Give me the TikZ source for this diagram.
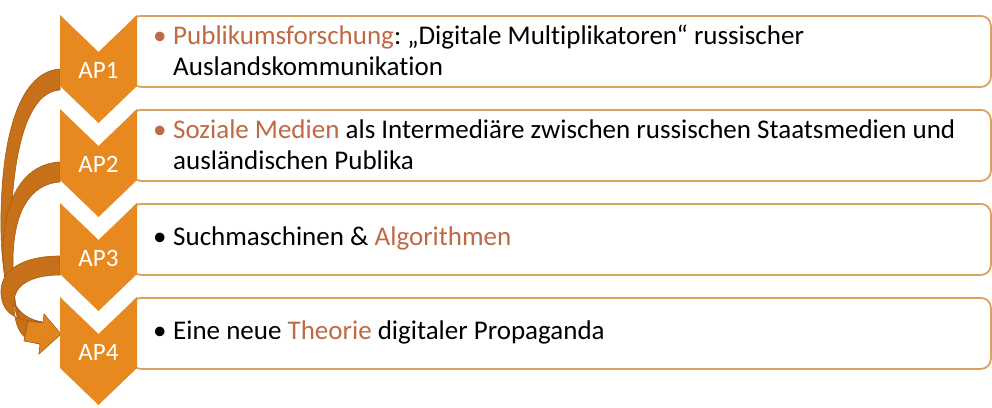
\documentclass[tikz,border=0pt]{standalone}
\usepackage{fontspec}
\setmainfont[Ligatures=NoCommon]{Carlito}
\usetikzlibrary{calc}
\definecolor{chev}{HTML}{E8891F}
\definecolor{arr}{HTML}{C6701A}
\definecolor{arredge}{HTML}{A65C10}
\definecolor{boxline}{HTML}{D8A35E}
\definecolor{hl}{HTML}{BF6A44}
\newcommand{\bul}[1]{\makebox[20pt][l]{\color{#1}•}}
\frenchspacing
\begin{document}
\begin{tikzpicture}[x=1pt,y=-1pt,
  chevshape/.style={fill=chev, draw=none},
  boxshape/.style={draw=boxline, line width=1.8pt, fill=white, rounded corners=10pt,
     anchor=north west, minimum width=860pt, minimum height=71pt, inner sep=0pt},
  aplabel/.style={text=white, font=\fontsize{25}{28}\selectfont, inner sep=0pt},
  itemtext/.style={anchor=west, align=left, inner sep=0pt, font=\fontsize{27}{31}\selectfont},
  band/.style={fill=arr, draw=arredge, line width=0.6pt},
  head/.style={fill=chev!85!arr, draw=arredge, line width=0.6pt}]
\useasboundingbox (0,0) rectangle (992,407);
\fill[white] (0,0) rectangle (992,407);
% boxes
\foreach \k/\t in {1/15,2/109,3/203,4/297}{
  \node[boxshape] (box\k) at (130,\t) {};
}
% curved arrows (behind chevrons)
\draw[band] (60,69) .. controls (15,72) and (0,150) .. (1,230)
   .. controls (2,300) and (18,318) .. (42,322)
   -- (40,344) .. controls (14,336) and (11,300) .. (11,240)
   .. controls (11,160) and (25,92) .. (60,90) -- cycle;
\draw[band] (60,162) .. controls (20,164) and (3,205) .. (3,252)
   .. controls (3,300) and (18,318) .. (42,322)
   -- (40,344) .. controls (17,336) and (13,300) .. (13,262)
   .. controls (13,212) and (30,184) .. (60,182) -- cycle;
\draw[band] (60,256) .. controls (20,256) and (0,272) .. (1,293)
   .. controls (2,315) and (18,321) .. (42,322)
   -- (40,344) .. controls (17,340) and (14,320) .. (14,302)
   .. controls (14,286) and (30,275) .. (60,275) -- cycle;
\draw[head] (28,321) -- (43,323) -- (44,314) -- (61,334) -- (39,354) -- (40,344) -- (24,341) -- cycle;
% chevrons
\foreach \k/\t in {1/15,2/109,3/203,4/297}{
  \fill[chevshape] (60,\t) -- (98.5,\t+37) -- (137,\t) -- (137,\t+71)
     -- (98.5,\t+108) -- (60,\t+71) -- cycle;
  \node[aplabel] (ap\k) at (98.5,\t+55) {AP\k};
}
% texts
\node[itemtext] (t1) at (153,50.5) {\bul{hl}{\color{hl}Publikumsforschung}: „Digitale Multiplikatoren“ russischer\\\hspace*{20pt}Auslandskommunikation};
\node[itemtext] (t2) at (153,144.5) {\bul{hl}{\color{hl}Soziale Medien} als Intermediäre zwischen russischen Staatsmedien und\\\hspace*{20pt}ausländischen Publika};
\node[itemtext] (t3) at (153,238.5) {\bul{black}Suchmaschinen \& {\color{hl}Algorithmen}};
\node[itemtext] (t4) at (153,332.5) {\bul{black}Eine neue {\color{hl}Theorie} digitaler Propaganda};
\end{tikzpicture}
\end{document}
